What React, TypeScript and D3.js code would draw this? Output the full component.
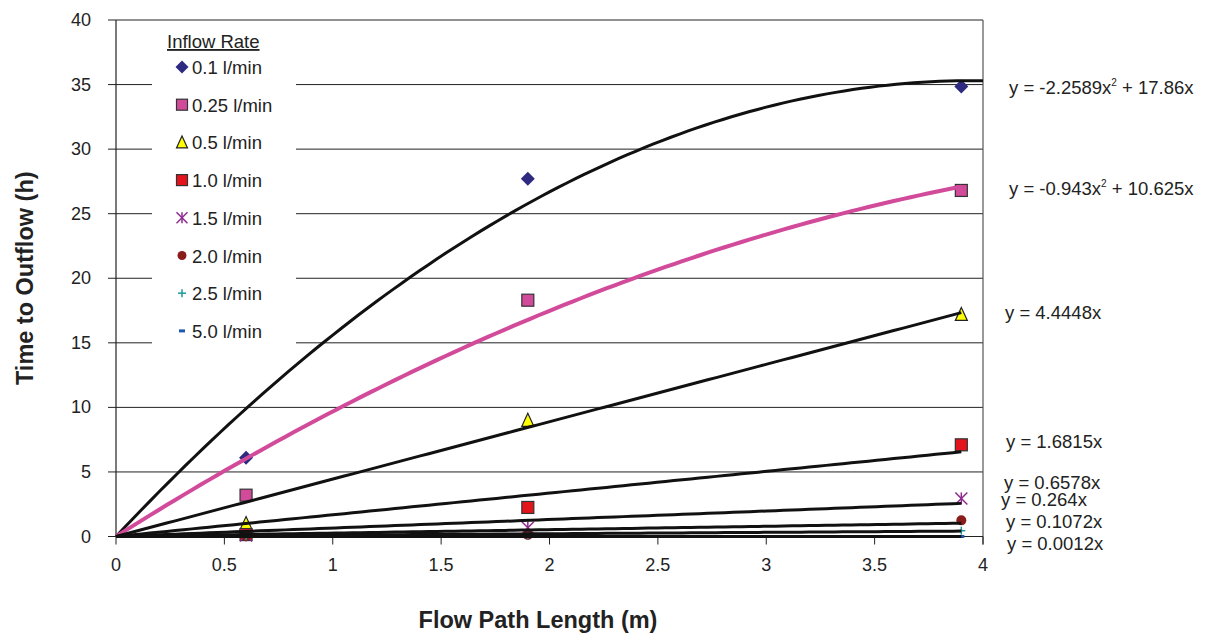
import React from 'react';
import * as d3 from 'd3';

// flow path lengths tested (m)
const lengths = [0.6, 1.9, 3.9];

// time to outflow (h) per inflow rate
const rate01 = [6.1, 27.7, 34.85];
const rate025 = [3.2, 18.3, 26.8];
const rate05 = [1.0, 9.0, 17.2];
const rate10 = [0.15, 2.25, 7.1];
const rate15 = [0.08, 0.68, 2.95];
const rate20 = [0.04, 0.12, 1.25];
const rate25 = [0.02, 0.05, 0.45];
const rate50 = [0.0, 0.0, 0.0];

const rateLabels = ['0.1 l/min', '0.25 l/min', '0.5 l/min', '1.0 l/min', '1.5 l/min', '2.0 l/min', '2.5 l/min', '5.0 l/min'];

// trendline coefficients: y = a*x^2 + b*x
const trendA = [-2.2589, -0.943, 0, 0, 0, 0, 0, 0];
const trendB = [17.86, 10.625, 4.4448, 1.6815, 0.6578, 0.264, 0.1072, 0.0012];
const trendEnd = [4, 3.9, 3.9, 3.9, 3.9, 3.9, 3.9, 3.9];
const trendLabels = [
  ['y = -2.2589x', '2', ' + 17.86x'],
  ['y = -0.943x', '2', ' + 10.625x'],
  ['y = 4.4448x'],
  ['y = 1.6815x'],
  ['y = 0.6578x'],
  ['y = 0.264x'],
  ['y = 0.1072x'],
  ['y = 0.0012x'],
];
const labelPos = [[1009, 94], [1009, 195], [1005, 319], [1006, 448], [1004, 489], [1001, 506], [1006, 528], [1007, 550]];

const xTicks = [0, 0.5, 1, 1.5, 2, 2.5, 3, 3.5, 4];
const yTicks = [0, 5, 10, 15, 20, 25, 30, 35, 40];

const series = [rate01, rate025, rate05, rate10, rate15, rate20, rate25, rate50];
const shapes = ['diamond', 'square', 'triangle', 'square', 'asterisk', 'circle', 'plus', 'dash'];
const fills = ['#2d2a80', '#d24b9b', '#ffff00', '#e3141b', '#8e2a8e', '#8a1c1c', '#1f9a9a', '#1e58ad'];
const trendColors = ['#111', '#d24b9b', '#111', '#111', '#111', '#111', '#111', '#111'];

const font = '"Liberation Sans", Arial, sans-serif';

function Marker({ shape, fill, x, y, s }: { shape: string; fill: string; x: number; y: number; s: number }) {
  const h = s / 2;
  if (shape === 'diamond') {
    return <path d={`M${x},${y - h - 1}L${x + h + 1},${y}L${x},${y + h + 1}L${x - h - 1},${y}Z`} fill={fill} />;
  }
  if (shape === 'square') {
    return <rect x={x - h} y={y - h} width={s} height={s} fill={fill} stroke="#333" strokeWidth={1.2} />;
  }
  if (shape === 'triangle') {
    return <path d={`M${x},${y - h - 1}L${x + h},${y + h}L${x - h},${y + h}Z`} fill={fill} stroke="#222" strokeWidth={1.2} />;
  }
  if (shape === 'asterisk') {
    return (
      <g stroke={fill} strokeWidth={1.5}>
        <line x1={x - h} y1={y - h} x2={x + h} y2={y + h} />
        <line x1={x - h} y1={y + h} x2={x + h} y2={y - h} />
        <line x1={x} y1={y - h} x2={x} y2={y + h} />
      </g>
    );
  }
  if (shape === 'circle') {
    return <circle cx={x} cy={y} r={h - 1} fill={fill} />;
  }
  if (shape === 'plus') {
    return (
      <g stroke={fill} strokeWidth={1.5}>
        <line x1={x - 4} y1={y} x2={x + 4} y2={y} />
        <line x1={x} y1={y - 4} x2={x} y2={y + 4} />
      </g>
    );
  }
  return <rect x={x - 3} y={y - 1.5} width={6} height={3} fill={fill} />;
}

export default function App() {
  const left = 116, right = 983, top = 20, bottom = 536.5;
  const x = d3.scaleLinear().domain([0, 4]).range([left, right]);
  const y = d3.scaleLinear().domain([0, 40]).range([bottom, top]);

  const trendPath = (i: number) => {
    const pts = d3.range(0, 101).map(k => (k / 100) * trendEnd[i]);
    return d3.line<number>()
      .x(v => x(v))
      .y(v => y(trendA[i] * v * v + trendB[i] * v))
      .curve(d3.curveLinear)(pts) || '';
  };

  return (
    <svg width={1205} height={635} style={{ position: 'absolute', left: 0, top: 0, background: '#fff' }} fontFamily={font}>
      {/* gridlines */}
      {yTicks.map(t => (
        <line key={'g' + t} x1={left} x2={right} y1={y(t)} y2={y(t)} stroke="#222" strokeWidth={1} />
      ))}
      <line x1={right} x2={right} y1={top} y2={bottom + 8} stroke="#555" strokeWidth={1.2} />

      {/* legend background */}
      <rect x={152} y={24} width={144} height={324} fill="#fff" />

      {/* axes */}
      <line x1={left} x2={left} y1={top} y2={bottom} stroke="#222" strokeWidth={1.2} />
      <line x1={left} x2={right} y1={bottom} y2={bottom} stroke="#222" strokeWidth={1.2} />
      {yTicks.map(t => (
        <g key={'yt' + t}>
          <line x1={left - 8} x2={left} y1={y(t)} y2={y(t)} stroke="#222" strokeWidth={1} />
          <text x={left - 25} y={y(t) + 6} fontSize={18} textAnchor="end" fill="#222">{t}</text>
        </g>
      ))}
      {xTicks.map(t => (
        <g key={'xt' + t}>
          <line x1={x(t)} x2={x(t)} y1={bottom} y2={bottom + 8} stroke="#222" strokeWidth={1} />
          <text x={x(t)} y={bottom + 34} fontSize={18} textAnchor="middle" fill="#222">{t}</text>
        </g>
      ))}

      {/* data markers */}
      {series.map((vals, i) =>
        vals.map((v, j) => (
          <Marker key={`m${i}-${j}`} shape={shapes[i]} fill={fills[i]} x={x(lengths[j])} y={y(v)} s={12} />
        ))
      )}

      {/* trendlines */}
      {series.map((_, i) => (
        <path key={'t' + i} d={trendPath(i)} fill="none" stroke={trendColors[i]} strokeWidth={i === 1 ? 4 : 3} />
      ))}

      {/* trendline equations */}
      {trendLabels.map((parts, i) => (
        <text key={'e' + i} x={labelPos[i][0]} y={labelPos[i][1]} fontSize={18.5} fill="#222">
          {parts.length === 1 ? parts[0] : (
            <>
              {parts[0]}
              <tspan fontSize={10} dy={-8}>{parts[1]}</tspan>
              <tspan dy={8}>{parts[2]}</tspan>
            </>
          )}
        </text>
      ))}

      {/* legend */}
      <text x={167} y={48} fontSize={18.5} fill="#222" textDecoration="underline">Inflow Rate</text>
      {rateLabels.map((lab, i) => {
        const ly = 67 + i * 37.7;
        return (
          <g key={'l' + i}>
            <Marker shape={shapes[i]} fill={fills[i]} x={182} y={ly} s={11} />
            <text x={192} y={ly + 7} fontSize={18.5} fill="#222">{lab}</text>
          </g>
        );
      })}

      {/* axis titles */}
      <text x={538} y={628} fontSize={23.5} fontWeight="bold" textAnchor="middle" fill="#222">Flow Path Length (m)</text>
      <text transform={`translate(33,${(top + bottom) / 2}) rotate(-90)`} fontSize={23.5} fontWeight="bold" textAnchor="middle" fill="#222">Time to Outflow (h)</text>
    </svg>
  );
}
